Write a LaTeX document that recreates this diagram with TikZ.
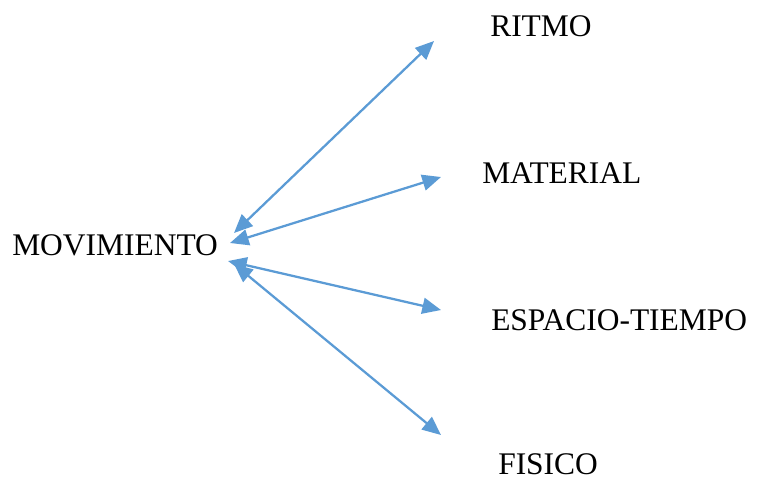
\documentclass[tikz,border=0pt]{standalone}
\usepackage{fontspec}
\setmainfont{Liberation Serif}
\usetikzlibrary{arrows.meta}
\definecolor{linkblue}{RGB}{91,155,213}

\begin{document}
\begin{tikzpicture}[x=0.75pt, y=-0.75pt,
  lbl/.style={inner sep=0pt, anchor=base west, font=\fontsize{23.6}{28}\selectfont},
  link/.style={linkblue, line width=1.7pt, {Triangle[length=14pt,width=12pt]}-{Triangle[length=14pt,width=12pt]}}]
  \useasboundingbox (0,0) rectangle (757,480);
  \node[lbl] (mov) at (12,255) {MOVIMIENTO};
  \node[lbl] (rit) at (490,36) {RITMO};
  \node[lbl] (mat) at (482,183) {MATERIAL};
  \node[lbl] (esp) at (491,330) {ESPACIO-TIEMPO};
  \node[lbl] (fis) at (498,474) {FISICO};
  % arrow ends
  \coordinate (m1) at (234,233);
  \coordinate (m2) at (230,243);
  \coordinate (m3) at (228,261);
  \coordinate (m4) at (234,264);
  \coordinate (r) at (434,41);
  \coordinate (a) at (441,177);
  \coordinate (e) at (441,310);
  \coordinate (f) at (441,435);
  \draw[link] (m1) -- (r);
  \draw[link] (m2) -- (a);
  \draw[link] (m3) -- (e);
  \draw[link] (m4) -- (f);
\end{tikzpicture}
\end{document}
